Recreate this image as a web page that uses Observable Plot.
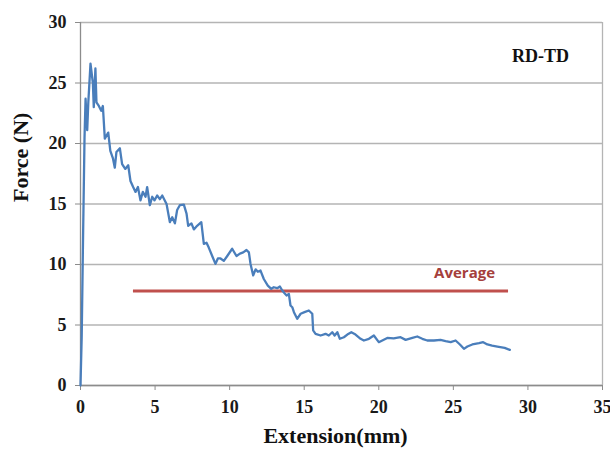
<!DOCTYPE html>
<html>
<head>
<meta charset="utf-8">
<script src="https://cdn.jsdelivr.net/npm/d3@7"></script>
<script src="https://cdn.jsdelivr.net/npm/@observablehq/plot@0.6"></script>
<style>
  html, body { margin: 0; padding: 0; background: #fff; }
</style>
</head>
<body>
<div id="chart"></div>
<script>
// Extension (mm) and Force (N)
const extension = [0,0.08,0.18,0.27,0.34,0.45,0.52,0.67,0.83,0.89,1.0,1.07,1.23,1.39,1.5,1.63,1.86,2.0,2.17,2.3,2.41,2.64,2.79,3.0,3.2,3.35,3.53,3.69,3.85,4.02,4.18,4.36,4.47,4.65,4.81,4.96,5.14,5.32,5.48,5.77,5.99,6.15,6.33,6.48,6.66,6.93,7.11,7.22,7.44,7.6,7.82,8.1,8.27,8.45,8.6,8.83,9.05,9.21,9.39,9.61,9.84,10.17,10.46,10.69,10.91,11.13,11.29,11.4,11.58,11.74,11.89,12.07,12.29,12.56,12.79,12.96,13.19,13.37,13.53,13.68,13.82,13.97,14.08,14.2,14.31,14.53,14.76,15.02,15.31,15.54,15.6,15.76,16.1,16.43,16.65,16.88,17.04,17.22,17.39,17.66,17.89,18.16,18.44,18.78,19.0,19.34,19.67,20.0,20.57,21.0,21.46,21.8,22.25,22.58,22.92,23.25,23.7,24.14,24.48,24.82,25.15,25.44,25.71,25.94,26.27,26.72,27.0,27.28,27.6,27.95,28.44,28.79];
const force = [0,4,13,20.5,23.7,21.1,23.3,26.6,25.0,23.0,26.2,23.4,23.1,22.7,23.1,20.4,20.9,19.4,18.8,18.0,19.3,19.6,18.3,17.9,18.2,16.9,16.4,16.0,16.4,15.3,16.0,15.6,16.4,14.9,15.6,15.3,15.7,15.4,15.7,15.0,13.5,13.9,13.4,14.5,14.9,14.95,14.2,13.2,13.4,12.9,13.2,13.5,11.7,11.8,11.4,10.7,10.05,10.5,10.5,10.3,10.7,11.3,10.7,10.9,11.0,11.2,11.0,10.05,9.1,9.6,9.4,9.5,8.8,8.26,7.99,8.12,8.04,8.18,7.85,7.63,7.44,7.57,6.61,6.47,6.06,5.51,5.93,6.06,6.2,5.93,4.55,4.27,4.13,4.27,4.13,4.4,4.13,4.4,3.86,3.99,4.21,4.4,4.21,3.86,3.72,3.86,4.13,3.58,3.93,3.9,3.99,3.77,3.93,4.05,3.86,3.72,3.72,3.77,3.66,3.58,3.72,3.39,3.03,3.22,3.39,3.5,3.58,3.39,3.3,3.22,3.11,2.94];

const xTicks = [0, 5, 10, 15, 20, 25, 30, 35];
const yTicks = [0, 5, 10, 15, 20, 25, 30];

const averageForce = 7.8;
const averageSpan = [3.55, 28.7];
const averageLabel = "Average";
const sampleLabel = "RD-TD";
const xTitle = "Extension(mm)";
const yTitle = "Force (N)";

const curve = extension.map((x, i) => ({x, y: force[i]}));

const serif = "'Liberation Serif', 'Times New Roman', serif";
const gridColor = "#b4b4b4";
const axisColor = "#8c8c8c";

const chart = Plot.plot({
  width: 610,
  height: 457,
  marginLeft: 80,
  marginRight: 8,
  marginTop: 22,
  marginBottom: 72,
  style: {fontFamily: serif, fontSize: "18px", fontWeight: "bold", color: "#1a1a1a", background: "#fff"},
  x: {domain: [0, 35]},
  y: {domain: [0, 30]},
  marks: [
    Plot.gridY(yTicks, {stroke: gridColor, strokeOpacity: 1, strokeWidth: 1.3}),
    Plot.ruleX([35], {stroke: gridColor, strokeWidth: 1.3}),
    Plot.ruleX([0], {stroke: axisColor, strokeWidth: 1.3}),
    Plot.ruleY([0], {stroke: axisColor, strokeWidth: 1.3}),
    Plot.axisX(xTicks, {tickSize: 5, tickPadding: 10, stroke: axisColor, fill: "#1a1a1a", label: null, fontSize: 18, fontWeight: "bold", fontFamily: serif}),
    Plot.axisY(yTicks, {tickSize: 5, tickPadding: 9, stroke: axisColor, fill: "#1a1a1a", label: null, fontSize: 18, fontWeight: "bold", fontFamily: serif}),
    Plot.ruleY([averageForce], {x1: averageSpan[0], x2: averageSpan[1], stroke: "#c0504d", strokeWidth: 3}),
    Plot.line(curve, {x: "x", y: "y", stroke: "#4a7ebb", strokeWidth: 2.3, strokeLinejoin: "round"}),
    Plot.text([averageLabel], {x: 25.75, y: 9.3, text: d => d, fill: "#a5403c", fontFamily: "'Open Sans', 'Liberation Sans', sans-serif", fontWeight: "bold", fontSize: 15}),
    Plot.text([sampleLabel], {x: 30.85, y: 27.2, text: d => d, fill: "#111", fontFamily: serif, fontWeight: "bold", fontSize: 18}),
    Plot.text([xTitle], {frameAnchor: "bottom", dy: 57, dx: -6, text: d => d, fill: "#111", fontFamily: serif, fontWeight: "bold", fontSize: 22}),
    Plot.text([yTitle], {frameAnchor: "left", dx: -60, dy: -2, rotate: -90, text: d => d, fill: "#111", fontFamily: serif, fontWeight: "bold", fontSize: 22})
  ]
});
document.getElementById("chart").appendChild(chart);
</script>
</body>
</html>
